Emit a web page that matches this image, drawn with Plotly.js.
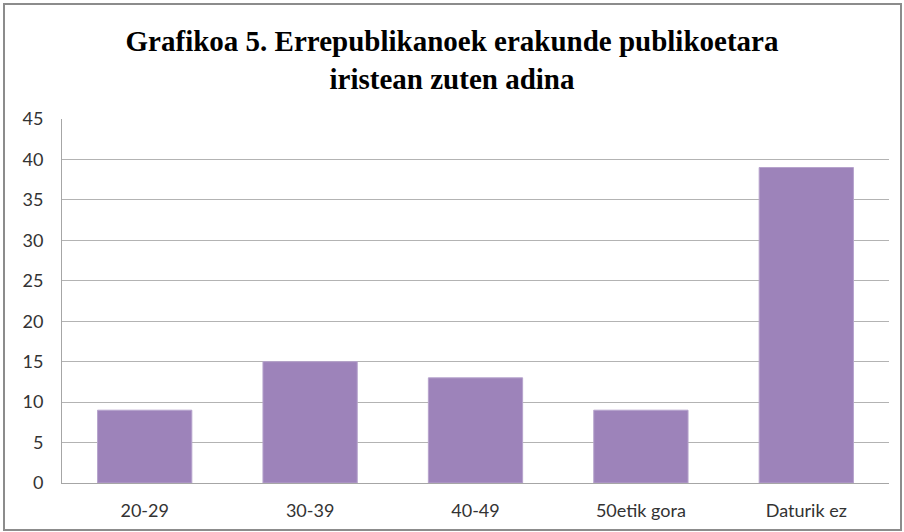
<!DOCTYPE html>
<html><head><meta charset="utf-8">
<script src="https://cdn.plot.ly/plotly-3.0.1.min.js"></script>
<style>
html,body{margin:0;padding:0;background:#fff;}
#wrap{position:relative;width:904px;height:532px;}
#chart{width:904px;height:532px;}
#frame{position:absolute;left:3px;top:3px;width:895px;height:524px;border:2px solid #8c8c8c;pointer-events:none;}
</style></head>
<body>
<div id="wrap"><div id="chart"></div><div id="frame"></div></div>
<script>
const categories = ["20-29", "30-39", "40-49", "50etik gora", "Daturik ez"];
const values = [9, 15, 13, 9, 39];
const yTicks = [0, 5, 10, 15, 20, 25, 30, 35, 40, 45];

const trace = {
  type: 'bar', x: categories, y: values,
  marker: {color: '#9d83ba', line: {color: '#b6a3cc', width: 1}},
  hoverinfo: 'x+y'
};
const layout = {
  width: 904, height: 532,
  margin: {l: 62, r: 15, t: 119, b: 49},
  paper_bgcolor: 'rgba(0,0,0,0)', plot_bgcolor: '#fff',
  bargap: 0.43,
  showlegend: false,
  title: {
    text: 'Grafikoa 5. Errepublikanoek erakunde publikoetara<br>iristean zuten adina',
    font: {family: '"Liberation Serif", "Times New Roman", serif', size: 29, color: '#000', weight: 'bold'},
    x: 0.5, xanchor: 'center', yref: 'container', y: 0.904, yanchor: 'top'
  },
  xaxis: {
    type: 'category', showgrid: false, showline: true, linecolor: '#a6a6a6', linewidth: 1,
    ticks: '', tickfont: {family: 'Lato, "Open Sans", sans-serif', size: 18, color: '#333'},
    ticklabelstandoff: 11, fixedrange: true
  },
  yaxis: {
    range: [0, 45], tickvals: yTicks, ticktext: yTicks.map(String),
    showgrid: true, gridcolor: '#b3b3b3', gridwidth: 1, zeroline: false,
    showline: true, linecolor: '#a6a6a6', linewidth: 1, ticks: '',
    tickfont: {family: 'Lato, "Open Sans", sans-serif', size: 18, color: '#333'},
    ticklabelstandoff: 14, fixedrange: true
  }
};
Plotly.newPlot('chart', [trace], layout, {displayModeBar: false, staticPlot: true});
</script>
</body></html>
